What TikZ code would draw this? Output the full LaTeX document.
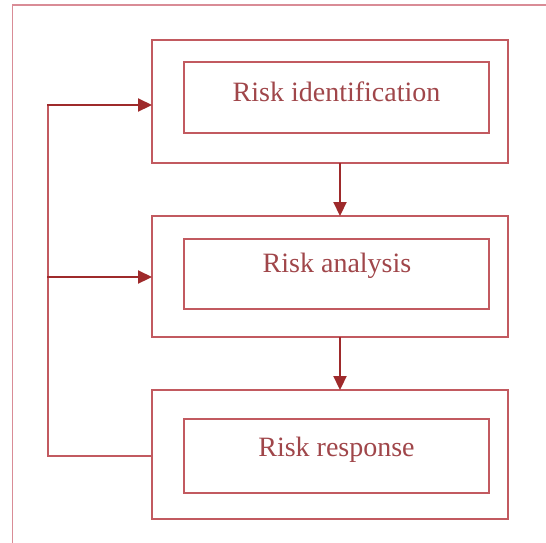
\documentclass[tikz,border=0pt]{standalone}
\usepackage{fontspec}
\setmainfont{Liberation Serif}
\usetikzlibrary{arrows.meta}
\definecolor{boxline}{HTML}{C25A60}
\definecolor{frameline}{HTML}{D98C96}
\definecolor{arrowred}{HTML}{9E2A2B}
\definecolor{textred}{HTML}{A0464A}
\begin{document}
\begin{tikzpicture}[x=1pt,y=-1pt,
  outerbox/.style={draw=boxline,line width=1.4pt},
  innerbox/.style={draw=boxline,line width=1.4pt},
  lbl/.style={text=textred,font=\fontsize{28}{32}\selectfont,anchor=base,inner sep=0pt},
  flow/.style={draw=arrowred,line width=2.2pt,-{Triangle[length=14pt,width=13pt]}},
  back/.style={draw=boxline,line width=1.4pt}]
\useasboundingbox (0,0) rectangle (546,542);
\fill[white] (0,0) rectangle (546,542);
% outer frame (only left and top edges visible)
\draw[frameline,line width=1.2pt] (12.5,545) -- (12.5,5) -- (550,5);
% boxes
\coordinate (o1a) at (152,40);  \coordinate (o1b) at (508,163);
\coordinate (i1a) at (184,62);  \coordinate (i1b) at (489,133);
\coordinate (o2a) at (152,216); \coordinate (o2b) at (508,337);
\coordinate (i2a) at (184,239); \coordinate (i2b) at (489,309);
\coordinate (o3a) at (152,390); \coordinate (o3b) at (508,519);
\coordinate (i3a) at (184,419); \coordinate (i3b) at (489,493);
\draw[outerbox] (o1a) rectangle (o1b);
\draw[innerbox] (i1a) rectangle (i1b);
\draw[outerbox] (o2a) rectangle (o2b);
\draw[innerbox] (i2a) rectangle (i2b);
\draw[outerbox] (o3a) rectangle (o3b);
\draw[innerbox] (i3a) rectangle (i3b);
\node[lbl] (t1) at (336.5,101.5) {Risk identification};
\node[lbl] (t2) at (337,272.5) {Risk analysis};
\node[lbl] (t3) at (336.5,456) {Risk response};
% flow arrows
\coordinate (b1) at (340,163); \coordinate (t2top) at (340,216);
\coordinate (b2) at (340,337); \coordinate (t3top) at (340,390);
\draw[flow] (b1) -- (t2top);
\draw[flow] (b2) -- (t3top);
% feedback
\coordinate (w3) at (152,456);
\coordinate (fb) at (48,456);
\coordinate (fm) at (48,277);
\coordinate (ft) at (48,105);
\coordinate (w1) at (152,105);
\coordinate (w2) at (152,277);
\draw[back] (w3) -- (fb) -- (ft);
\draw[flow] ([xshift=-0.7pt]ft) -- (w1);
\draw[flow] ([xshift=-0.7pt]fm) -- (w2);
\end{tikzpicture}
\end{document}
